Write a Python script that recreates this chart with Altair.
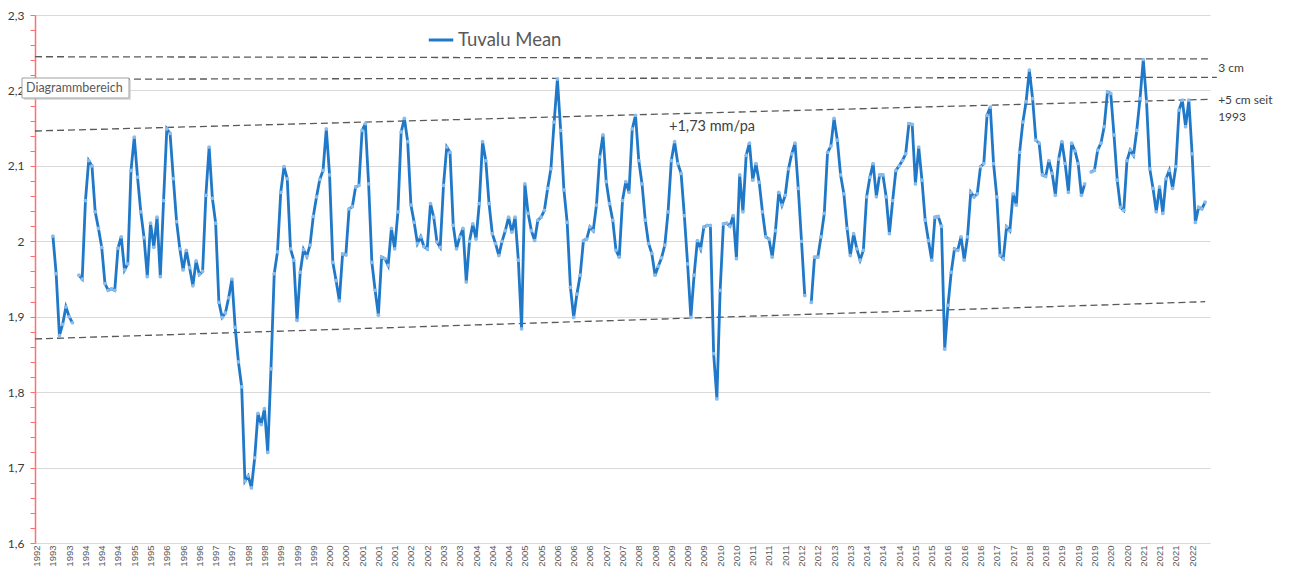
import altair as alt
import pandas as pd

# Monthly Tuvalu mean sea level (m), from Mar 1993 to Sep 2022; None = missing month
first_month_index = 14  # months since Jan 1992 (Mar 1993)
values = [
    # 1993 (Mar-Dec)
    2.007, 1.957, 1.875, 1.890, 1.913, 1.900, 1.892, None, 1.955, 1.950,
    # 1994
    2.054, 2.107, 2.100, 2.039, 2.017, 1.992, 1.944, 1.935, 1.937, 1.935, 1.991, 2.006,
    # 1995
    1.962, 1.970, 2.094, 2.138, 2.085, 2.039, 2.005, 1.953, 2.024, 1.992, 2.032, 1.953,
    # 1996
    2.054, 2.149, 2.143, 2.083, 2.026, 1.990, 1.962, 1.988, 1.965, 1.941, 1.974, 1.956,
    # 1997
    1.960, 2.061, 2.125, 2.057, 2.024, 1.919, 1.899, 1.905, 1.925, 1.950, 1.886, 1.840,
    # 1998
    1.807, 1.682, 1.689, 1.673, 1.713, 1.772, 1.757, 1.778, 1.720, 1.831, 1.957, 1.986,
    # 1999
    2.065, 2.099, 2.083, 1.990, 1.975, 1.895, 1.959, 1.989, 1.980, 1.995, 2.033, 2.059,
    # 2000
    2.082, 2.094, 2.149, 2.088, 1.972, 1.948, 1.921, 1.983, 1.982, 2.043, 2.046, 2.072,
    # 2001
    2.074, 2.147, 2.156, 2.076, 1.972, 1.935, 1.902, 1.979, 1.977, 1.968, 2.017, 1.990,
    # 2002
    2.039, 2.145, 2.163, 2.132, 2.048, 2.025, 1.997, 2.006, 1.993, 1.990, 2.050, 2.032,
    # 2003
    1.999, 1.992, 2.074, 2.125, 2.118, 2.021, 1.990, 2.006, 2.017, 1.946, 2.000, 2.023,
    # 2004
    2.003, 2.050, 2.132, 2.107, 2.050, 2.010, 1.997, 1.981, 2.000, 2.014, 2.032, 2.012,
    # 2005
    2.032, 1.975, 1.884, 2.076, 2.037, 2.014, 2.001, 2.028, 2.032, 2.041, 2.070, 2.096,
    # 2006
    2.158, 2.215, 2.147, 2.068, 2.025, 1.939, 1.899, 1.930, 1.955, 2.001, 2.003, 2.019,
    # 2007
    2.014, 2.048, 2.112, 2.141, 2.079, 2.050, 2.028, 1.988, 1.979, 2.054, 2.079, 2.065,
    # 2008
    2.149, 2.167, 2.107, 2.076, 2.028, 1.997, 1.984, 1.955, 1.967, 1.978, 1.995, 2.039,
    # 2009
    2.107, 2.132, 2.103, 2.090, 2.034, 1.970, 1.899, 1.955, 2.001, 1.990, 2.019, 2.021,
    # 2010
    2.021, 1.851, 1.791, 1.935, 2.023, 2.024, 2.020, 2.034, 1.977, 2.088, 2.039, 2.114,
    # 2011
    2.130, 2.081, 2.103, 2.078, 2.039, 2.006, 2.003, 1.979, 2.014, 2.065, 2.048, 2.061,
    # 2012
    2.096, 2.116, 2.130, 2.070, 2.000, 1.928, None, 1.919, 1.979, 1.979, 2.006, 2.037,
    # 2013
    2.118, 2.126, 2.163, 2.134, 2.088, 2.063, 2.017, 1.981, 2.010, 1.990, 1.975, 1.988,
    # 2014
    2.059, 2.085, 2.103, 2.059, 2.088, 2.088, 2.059, 2.010, 2.054, 2.094, 2.100, 2.107,
    # 2015
    2.116, 2.156, 2.155, 2.076, 2.125, 2.081, 2.028, 2.001, 1.975, 2.032, 2.033, 2.020,
    # 2016
    1.857, 1.915, 1.959, 1.990, 1.988, 2.006, 1.975, 2.006, 2.065, 2.059, 2.063, 2.099,
    # 2017
    2.103, 2.167, 2.178, 2.103, 2.059, 1.981, 1.977, 2.019, 2.014, 2.063, 2.048, 2.118,
    # 2018
    2.158, 2.185, 2.227, 2.189, 2.134, 2.130, 2.088, 2.086, 2.107, 2.090, 2.061, 2.109,
    # 2019
    2.132, 2.103, 2.065, 2.130, 2.120, 2.103, 2.061, 2.076, None, 2.092, 2.094, 2.121,
    # 2020
    2.130, 2.152, 2.198, 2.196, 2.141, 2.081, 2.045, 2.041, 2.107, 2.121, 2.114, 2.147,
    # 2021
    2.189, 2.241, 2.185, 2.096, 2.070, 2.039, 2.072, 2.037, 2.083, 2.094, 2.070, 2.099,
    # 2022 (Jan-Sep)
    2.174, 2.187, 2.152, 2.187, 2.116, 2.025, 2.045, 2.043, 2.052,
]

# Category axis: one label every 5 months starting Oct 1992
tick_first = 9
tick_step = 5
tick_labels = [
    "1992", "1993", "1993", "1994", "1994", "1994", "1995", "1995", "1996", "1996",
    "1996", "1997", "1997", "1998", "1998", "1999", "1999", "1999", "2000", "2000",
    "2001", "2001", "2001", "2002", "2002", "2003", "2003", "2004", "2004", "2004",
    "2005", "2005", "2006", "2006", "2006", "2007", "2007", "2008", "2008", "2009",
    "2009", "2009", "2010", "2010", "2011", "2011", "2011", "2012", "2012", "2013",
    "2013", "2014", "2014", "2014", "2015", "2015", "2016", "2016", "2016", "2017",
    "2017", "2018", "2018", "2019", "2019", "2019", "2020", "2020", "2021", "2021",
    "2021", "2022",
]

# Dashed reference / trend lines (start month, end month, start value, end value)
ref_x0 = [8.5, 8.5, 8.5, 8.5]
ref_x1 = [369.5, 371.6, 368.9, 368.0]
ref_y0 = [2.2447, 2.2148, 2.1462, 1.8705]
ref_y1 = [2.2417, 2.2174, 2.1882, 1.9199]

# Text annotations
note_text = ["3 cm", "+5 cm seit", "1993", "+1,73 mm/pa"]
note_x = [372.0, 372.0, 372.0, 203.3]
note_y = [2.2297, 2.1873, 2.1648, 2.1515]
note_size = [12, 12, 12, 14.5]

series_name = "Tuvalu Mean"
line_color = "#1f78c8"
point_color = "#8cbce9"
font = "Lato"

# ---- build tables ----
rows = []
seg = 0
for i, v in enumerate(values):
    if v is None:
        seg += 1
        continue
    rows.append({"m": first_month_index + i, "v": v, "seg": seg, "series": series_name})
df = pd.DataFrame(rows)

ref_df = pd.DataFrame({"x0": ref_x0, "x1": ref_x1, "y0": ref_y0, "y1": ref_y1})
note_df = pd.DataFrame({"t": note_text, "x": note_x, "y": note_y, "s": note_size})

tick_values = [tick_first + tick_step * k for k in range(len(tick_labels))]
label_array = "[" + ",".join("'%s'" % s for s in tick_labels) + "]"
x_label_expr = f"{label_array}[round((datum.value - {tick_first}) / {tick_step})]"

y_values = [round(1.6 + 0.02 * i, 2) for i in range(36)]
is_major = "abs(datum.value * 10 - round(datum.value * 10)) < 0.001"
y_label_expr = f"{is_major} ? replace(toString(round(datum.value * 10) / 10), '.', ',') : ''"

x_scale = alt.Scale(domain=[8.5, 369.5], nice=False, zero=False)
y_scale = alt.Scale(domain=[1.6, 2.3], nice=False, zero=False)

x_axis = alt.Axis(
    values=tick_values, labelExpr=x_label_expr, labelAngle=270, labelFontSize=9.5,
    labelColor="#595959", labelFont="Liberation Sans", ticks=False, grid=False,
    domainColor="#d9d9d9", labelPadding=2, title=None, labelOverlap=False,
)
y_axis = alt.Axis(
    values=y_values, labelExpr=y_label_expr, labelFontSize=12, labelColor="#3a3a3a",
    labelFont=font, labelPadding=6, tickColor="#ff7070", tickSize=5,
    domainColor="#ff7070", domainWidth=1.5, grid=True, gridColor="#d9d9d9",
    gridOpacity={"condition": {"test": is_major, "value": 1}, "value": 0},
    title=None, labelOverlap=False,
)

base_x = alt.X("m:Q", scale=x_scale, axis=x_axis)
base_y = alt.Y("v:Q", scale=y_scale, axis=y_axis)

ref_lines = alt.Chart(ref_df).mark_rule(
    color="#595959", strokeDash=[7, 4], strokeWidth=1.3
).encode(
    x=alt.X("x0:Q", scale=x_scale, axis=x_axis),
    x2="x1:Q",
    y=alt.Y("y0:Q", scale=y_scale, axis=y_axis),
    y2="y1:Q",
)

line = alt.Chart(df).mark_line(strokeWidth=2.8).encode(
    x=base_x,
    y=base_y,
    detail="seg:N",
    color=alt.Color(
        "series:N",
        scale=alt.Scale(domain=[series_name], range=[line_color]),
        legend=alt.Legend(
            orient="none", legendX=392, legendY=11, title=None, symbolType="stroke",
            symbolStrokeWidth=3, symbolSize=600, labelFontSize=18.5, labelColor="#595959",
            labelFont=font, symbolStrokeColor=line_color, labelOffset=3,
        ),
    ),
)

points = alt.Chart(df).mark_point(filled=True, size=14, color=point_color, opacity=1).encode(
    x=base_x, y=base_y
)

notes = alt.Chart(note_df).mark_text(
    align="left", baseline="middle", color="#404040", font=font
).encode(
    x=alt.X("x:Q", scale=x_scale, axis=x_axis),
    y=alt.Y("y:Q", scale=y_scale, axis=y_axis),
    text="t:N",
    size=alt.Size("s:Q", scale=None, legend=None),
)

box_df = pd.DataFrame({"t": ["Diagrammbereich"]})
box_shadow = alt.Chart(box_df).mark_rect(fill="#c8c8c8", opacity=0.6).encode(
    x=alt.value(-11), x2=alt.value(96), y=alt.value(65), y2=alt.value(85)
)
box = alt.Chart(box_df).mark_rect(fill="white", stroke="#a0a0a0", strokeWidth=1).encode(
    x=alt.value(-13), x2=alt.value(94), y=alt.value(63), y2=alt.value(83)
)
box_text = alt.Chart(box_df).mark_text(
    align="left", baseline="middle", fontSize=12.5, color="#595959", font=font
).encode(x=alt.value(-9), y=alt.value(73), text="t:N")

chart = alt.layer(
    ref_lines, line, points, notes, box_shadow, box, box_text
).properties(
    width=1175, height=528,
    autosize=alt.AutoSizeParams(type="none"),
    padding={"left": 27, "top": 7, "right": 72, "bottom": 25},
    background="white",
).configure_view(stroke=None)

chart.save("out.html", embed_options={"renderer": "svg", "actions": False})
